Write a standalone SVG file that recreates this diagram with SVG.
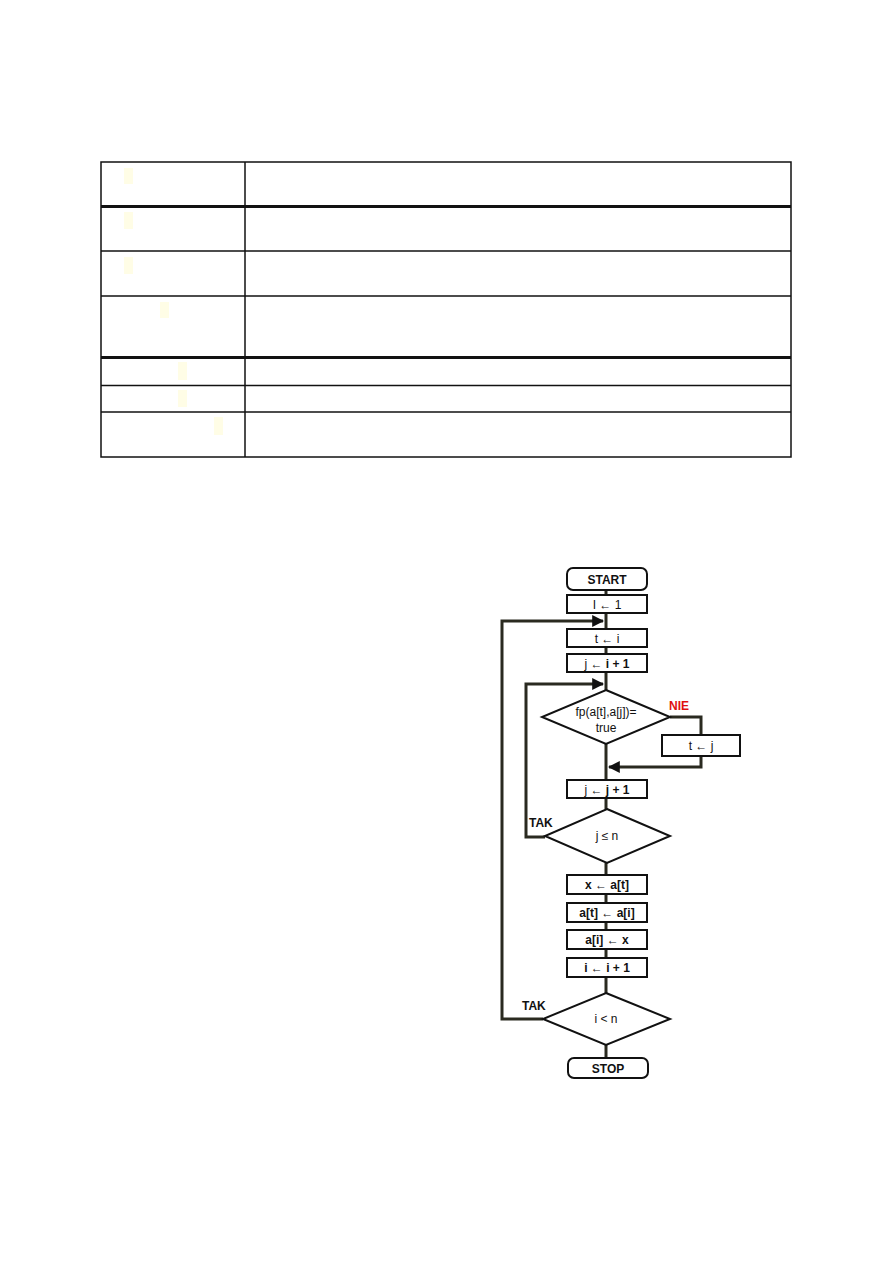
<svg xmlns="http://www.w3.org/2000/svg" width="893" height="1263" viewBox="0 0 893 1263">
<defs>
<style>
.grid{stroke:#111;stroke-width:1.5;fill:none}
.thick{stroke:#111;stroke-width:3;fill:none}
.mark{fill:#fffde6}
.box{fill:#fff;stroke:#111;stroke-width:2}
.con{stroke:#2a2a20;stroke-width:3;fill:none}
.t{font-family:"Liberation Sans",Arial,sans-serif;font-size:12px;fill:#111;text-anchor:middle}
.b{font-weight:bold}
.lbl{font-family:"Liberation Sans",Arial,sans-serif;font-size:12px;font-weight:bold;fill:#111}
.nie{fill:#e01010}
</style>
<marker id="ar" viewBox="0 0 10 10" refX="9" refY="5" markerWidth="4" markerHeight="4" orient="auto">
<path d="M0,0 L10,5 L0,10 z" fill="#111"/>
</marker>
</defs>
<rect width="893" height="1263" fill="#fff"/>

<g id="table">
<rect class="grid" x="101" y="162" width="690" height="295"/>
<line class="grid" x1="245" y1="162" x2="245" y2="457"/>
<line class="thick" x1="101" y1="206.5" x2="791" y2="206.5"/>
<line class="grid" x1="101" y1="251" x2="791" y2="251"/>
<line class="grid" x1="101" y1="296" x2="791" y2="296"/>
<line class="thick" x1="101" y1="357.5" x2="791" y2="357.5"/>
<line class="grid" x1="101" y1="385.5" x2="791" y2="385.5"/>
<line class="grid" x1="101" y1="412" x2="791" y2="412"/>
<rect class="mark" x="124" y="168" width="9" height="16"/>
<rect class="mark" x="124" y="212" width="9" height="17"/>
<rect class="mark" x="124" y="257" width="9" height="17"/>
<rect class="mark" x="160" y="302" width="9" height="16"/>
<rect class="mark" x="178" y="362" width="9" height="18"/>
<rect class="mark" x="178" y="390" width="9" height="17"/>
<rect class="mark" x="214" y="417" width="9" height="18"/>
</g>

<g id="connectors">
<line class="con" x1="606" y1="590" x2="606" y2="595"/>
<line class="con" x1="606" y1="613" x2="606" y2="629"/>
<line class="con" x1="606" y1="647" x2="606" y2="654"/>
<line class="con" x1="606" y1="672" x2="606" y2="690"/>
<line class="con" x1="606" y1="744" x2="606" y2="780"/>
<line class="con" x1="606" y1="798" x2="606" y2="809"/>
<line class="con" x1="606" y1="863" x2="606" y2="875"/>
<line class="con" x1="606" y1="895" x2="606" y2="903"/>
<line class="con" x1="606" y1="923" x2="606" y2="930"/>
<line class="con" x1="606" y1="950" x2="606" y2="958"/>
<line class="con" x1="606" y1="978" x2="606" y2="993"/>
<line class="con" x1="606" y1="1045" x2="606" y2="1058"/>
<polyline class="con" points="543,1019 502,1019 502,621 603,621" marker-end="url(#ar)"/>
<polyline class="con" points="545,837 526,837 526,684 603,684" marker-end="url(#ar)"/>
<polyline class="con" points="670,717 701,717 701,735"/>
<polyline class="con" points="701,756 701,767 609,767" marker-end="url(#ar)"/>
</g>

<g id="start">
<rect class="box" x="567" y="568" width="80" height="22" rx="6"/>
<text class="t b" x="607" y="584" font-size="13">START</text>
</g>
<g id="init">
<rect class="box" x="567" y="595" width="80" height="18"/>
<text class="t" x="607" y="608.5">I ← 1</text>
</g>
<g id="t_i">
<rect class="box" x="567" y="629" width="80" height="18"/>
<text class="t" x="607" y="642.5">t ← i</text>
</g>
<g id="j_i1">
<rect class="box" x="567" y="654" width="80" height="18"/>
<text class="t" x="607" y="667.5">j ← <tspan class="b">i + 1</tspan></text>
</g>
<g id="cond_fp">
<polygon class="box" points="606,690 670,717 606,744 542,717"/>
<text class="t" x="606" y="716">fp(a[t],a[j])=</text>
<text class="t" x="606" y="732">true</text>
</g>
<g id="nie_label">
<text class="lbl nie" x="669" y="710">NIE</text>
</g>
<g id="t_j">
<rect class="box" x="662" y="735" width="78" height="21"/>
<text class="t" x="701" y="750">t ← j</text>
</g>
<g id="j_j1">
<rect class="box" x="567" y="780" width="80" height="18"/>
<text class="t" x="607" y="793.5">j ← <tspan class="b">j + 1</tspan></text>
</g>
<g id="cond_jn">
<polygon class="box" points="607,809 670,836 607,863 545,836"/>
<text class="t" x="607" y="840">j ≤ n</text>
</g>
<g id="tak1">
<text class="lbl" x="529" y="827">TAK</text>
</g>
<g id="x_at">
<rect class="box" x="567" y="875" width="80" height="19"/>
<text class="t b" x="607" y="889">x ← a[t]</text>
</g>
<g id="at_ai">
<rect class="box" x="567" y="903" width="80" height="19"/>
<text class="t b" x="607" y="917">a[t] ← a[i]</text>
</g>
<g id="ai_x">
<rect class="box" x="567" y="930" width="80" height="19"/>
<text class="t b" x="607" y="944">a[i] ← x</text>
</g>
<g id="i_i1">
<rect class="box" x="567" y="958" width="80" height="19"/>
<text class="t b" x="607" y="972">i ← i + 1</text>
</g>
<g id="cond_in">
<polygon class="box" points="606,993 670,1019 606,1045 543,1019"/>
<text class="t" x="606" y="1023">i &lt; n</text>
</g>
<g id="tak2">
<text class="lbl" x="522" y="1010">TAK</text>
</g>
<g id="stop">
<rect class="box" x="568" y="1058" width="80" height="20" rx="6"/>
<text class="t b" x="608" y="1073" font-size="13">STOP</text>
</g>
</svg>
